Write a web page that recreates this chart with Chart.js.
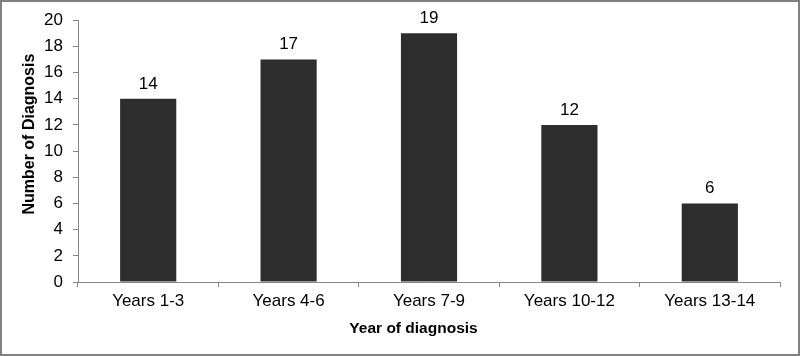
<!DOCTYPE html>
<html>
<head>
<meta charset="utf-8">
<script src="https://cdn.jsdelivr.net/npm/chart.js@4/dist/chart.umd.min.js"></script>
<style>
html,body{margin:0;padding:0;background:#fff;}
#wrap{width:800px;height:356px;position:relative;}
</style>
</head>
<body>
<div id="wrap"><canvas id="c" width="800" height="356"></canvas></div>
<script>
const categories = ["Years 1-3", "Years 4-6", "Years 7-9", "Years 10-12", "Years 13-14"];
const diagnoses = [14, 17, 19, 12, 6];
const yTicks = [0, 2, 4, 6, 8, 10, 12, 14, 16, 18, 20];
const yTitle = 'Number of Diagnosis';
const xTitle = 'Year of diagnosis';

const AXIS = '#868686';
const FONT = '"Liberation Sans", Arial, sans-serif';

const borderAndLabels = {
  id: 'borderAndLabels',
  afterDatasetsDraw(chart) {
    const ctx = chart.ctx;
    const meta = chart.getDatasetMeta(0);
    ctx.save();
    ctx.fillStyle = '#000';
    ctx.font = '17px ' + FONT;
    ctx.textAlign = 'center';
    ctx.textBaseline = 'alphabetic';
    meta.data.forEach((bar, i) => {
      ctx.fillText(String(chart.data.datasets[0].data[i]), bar.x, bar.y - 10);
    });
    ctx.restore();
  },
  afterDraw(chart) {
    const ctx = chart.ctx;
    const ys = chart.scales.y;
    const xs = chart.scales.x;
    // y axis title (placed like the original, a little above the plot centre)
    ctx.save();
    ctx.translate(33.5, (ys.top + ys.bottom) / 2 - 17);
    ctx.rotate(-Math.PI / 2);
    ctx.fillStyle = '#000';
    ctx.font = 'bold 16px ' + FONT;
    ctx.textAlign = 'center';
    ctx.textBaseline = 'alphabetic';
    ctx.fillText(yTitle, 0, 0);
    ctx.restore();
    // x axis title (placed like the original, a little left of the plot centre)
    ctx.save();
    ctx.fillStyle = '#000';
    ctx.font = 'bold 15.5px ' + FONT;
    ctx.textAlign = 'center';
    ctx.textBaseline = 'alphabetic';
    ctx.fillText(xTitle, (xs.left + xs.right) / 2 - 15.5, 333);
    ctx.restore();
    // outer frame
    ctx.save();
    ctx.strokeStyle = '#808080';
    ctx.lineWidth = 2;
    ctx.strokeRect(1, 1, 798, 354);
    ctx.restore();
  }
};

new Chart(document.getElementById('c'), {
  type: 'bar',
  data: {
    labels: categories,
    datasets: [{
      data: diagnoses,
      backgroundColor: '#2d2d2d',
      borderWidth: 0,
      categoryPercentage: 1.0,
      barPercentage: 0.4
    }]
  },
  options: {
    responsive: false,
    animation: false,
    devicePixelRatio: 1,
    layout: { padding: { left: 0, right: 20, top: 19, bottom: 0 } },
    plugins: { legend: { display: false }, tooltip: { enabled: false } },
    scales: {
      x: {
        grid: { display: true, drawOnChartArea: false, drawTicks: true, tickLength: 5, color: AXIS, offset: true },
        border: { display: true, color: AXIS, width: 1 },
        ticks: { color: '#000', font: { family: FONT, size: 17 }, padding: 4, maxRotation: 0 },
        title: { display: false },
        afterFit(scale) { scale.height = 74; }
      },
      y: {
        min: 0, max: 20,
        afterBuildTicks(scale) { scale.ticks = yTicks.map(v => ({ value: v })); },
        grid: { display: true, drawOnChartArea: false, drawTicks: true, tickLength: 5, color: AXIS },
        border: { display: true, color: AXIS, width: 1 },
        ticks: { color: '#000', font: { family: FONT, size: 17 }, padding: 10 },
        title: { display: false },
        afterFit(scale) { scale.width = 78; }
      }
    }
  },
  plugins: [borderAndLabels]
});
</script>
</body>
</html>
